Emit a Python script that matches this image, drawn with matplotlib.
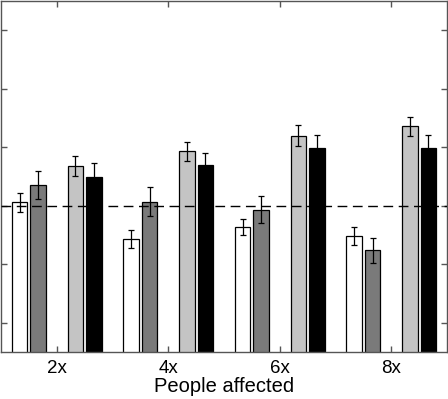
import numpy as np
import matplotlib
matplotlib.use('Agg')
import matplotlib.pyplot as plt

# data
groups = ['2x', '4x', '6x', '8x']
white_vals = [1.014, 0.858, 0.909, 0.871]
dgrey_vals = [1.088, 1.018, 0.983, 0.809]
lgrey_vals = [1.170, 1.232, 1.300, 1.339]
black_vals = [1.121, 1.175, 1.245, 1.245]
white_err = [0.040, 0.037, 0.035, 0.038]
dgrey_err = [0.060, 0.060, 0.058, 0.055]
lgrey_err = [0.043, 0.040, 0.043, 0.039]
black_err = [0.061, 0.051, 0.056, 0.056]
yticks = [0.5, 0.75, 1.0, 1.25, 1.5, 1.75]

plt.rcParams['font.family'] = ['Liberation Sans', 'DejaVu Sans']

fig = plt.figure(figsize=(4.48, 3.99), dpi=100)
ax = fig.add_axes([1/448, 47/399, 446/448, 351/399])

x = np.arange(1, len(groups) + 1)
width = 0.14
series = [
    (white_vals, white_err, 'white', -2/6),
    (dgrey_vals, dgrey_err, '#7a7a7a', -1/6),
    (lgrey_vals, lgrey_err, '#c4c4c4', 1/6),
    (black_vals, black_err, 'black', 2/6),
]
for vals, err, col, off in series:
    ax.bar(x + off, vals, width, color=col, edgecolor='black', linewidth=0.9, zorder=2)
    ax.errorbar(x + off, vals, yerr=err, fmt='none', ecolor='black',
                elinewidth=0.9, capsize=2.0, capthick=0.9, zorder=3)

ax.axhline(1.0, color='black', linestyle=(0, (7, 4)), linewidth=1.0, zorder=4)

ax.set_xlim(0.5, 4.5)
ax.set_ylim(0.375, 1.875)
ax.set_xticks(x)
ax.set_xticklabels(groups, fontsize=13.5)
ax.set_yticks(yticks)
ax.set_yticklabels([])
ax.tick_params(direction='in', length=4, color='#555555', width=1,
               top=True, right=True, labelleft=False)
ax.tick_params(axis='x', pad=6)
for s in ax.spines.values():
    s.set_color('#555555')
    s.set_linewidth(1.0)
ax.set_xlabel('People affected', fontsize=14.5, labelpad=0)

fig.savefig('out.png', dpi=100)
